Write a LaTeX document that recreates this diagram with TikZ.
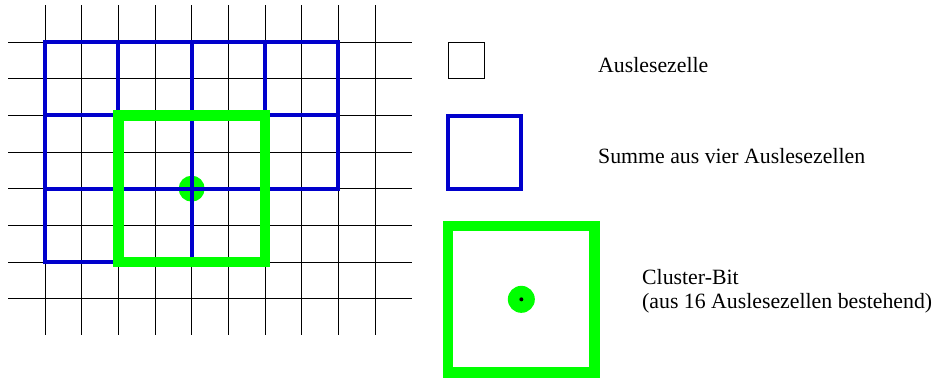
\documentclass[tikz,border=0pt]{standalone}
\usepackage{fontspec}
\setmainfont{Liberation Serif}
\begin{document}
\begin{tikzpicture}[x=1pt,y=-1pt,
  gridline/.style={black,line width=1pt},
  bluebox/.style={draw={rgb,255:red,0;green,0;blue,204},line width=4.2pt},
  greenbox/.style={draw={rgb,255:red,0;green,255;blue,0},line width=10.5pt},
  greendot/.style={fill={rgb,255:red,0;green,255;blue,0}},
  label/.style={anchor=base west,inner sep=0pt,font=\fontsize{21.8pt}{24pt}\selectfont,align=left}]
\useasboundingbox (0,0) rectangle (935,380);
\def\s{36.667}
% grid
\foreach \i in {0,...,9} {
  \draw[gridline] (45+\i*\s,5) -- (45+\i*\s,335);
}
\foreach \j in {0,...,7} {
  \draw[gridline] (8,42+\j*\s) -- (412,42+\j*\s);
}
% central dot
\fill[greendot] (45+4*\s,42+4*\s) circle (13);
% blue 2x2 blocks
\foreach \i in {0,1,2,3} {
  \draw[bluebox] (45+2*\i*\s,42) rectangle (45+2*\i*\s+2*\s,42+2*\s);
  \draw[bluebox] (45+2*\i*\s,42+2*\s) rectangle (45+2*\i*\s+2*\s,42+4*\s);
}
\foreach \i in {0,1,2} {
  \draw[bluebox] (45+2*\i*\s,42+4*\s) rectangle (45+2*\i*\s+2*\s,42+6*\s);
}
% green cluster
\draw[greenbox] (45+2*\s,42+2*\s) rectangle (45+6*\s,42+6*\s);
% legend
\node[draw,line width=1pt,minimum size=\s,inner sep=0pt] (cell) at (448+\s/2,42+\s/2) {};
\node[bluebox,minimum size=2*\s,inner sep=0pt] (sum) at (448+\s,116+\s) {};
\node[greenbox,minimum size=4*\s,inner sep=0pt] (clu) at (448+2*\s,226+2*\s) {};
\fill[greendot] (clu.center) circle (13.5);
\fill[black] (clu.center) circle (2);
\node[label] (t1) at (598,72) {Auslesezelle};
\node[label] (t2) at (598,163) {Summe aus vier Auslesezellen};
\node[label] (t3) at (642,308) {Cluster-Bit\\(aus 16 Auslesezellen bestehend)};
\end{tikzpicture}
\end{document}
